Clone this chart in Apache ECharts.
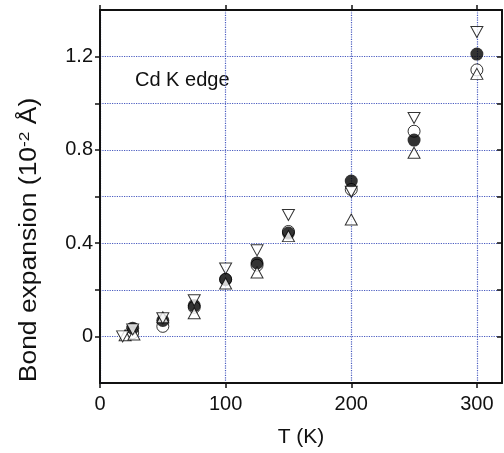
<!DOCTYPE html>
<html>
<head>
<meta charset="utf-8">
<script src="https://cdn.jsdelivr.net/npm/echarts@6/dist/echarts.min.js"></script>
<style>
  html, body { margin: 0; padding: 0; background: #fff; }
  #chart { width: 504px; height: 453px; }
</style>
</head>
<body>
<div id="chart"></div>
<script>
// Bond expansion vs temperature, Cd K edge (four data sets)
const filledT = [26, 50, 75, 100, 125, 150, 200, 250, 300];
const filledV = [0.035, 0.068, 0.132, 0.244, 0.315, 0.443, 0.666, 0.842, 1.211];

const openT = [26, 50, 75, 100, 125, 150, 200, 250, 300];
const openV = [0.015, 0.043, 0.125, 0.245, 0.305, 0.450, 0.630, 0.880, 1.143];

const upT = [20, 27, 50, 75, 100, 125, 150, 200, 250, 300];
const upV = [0.005, 0.008, 0.082, 0.099, 0.227, 0.274, 0.430, 0.501, 0.788, 1.126];

const downT = [18, 26, 50, 75, 100, 125, 150, 200, 250, 300];
const downV = [0.000, 0.030, 0.078, 0.155, 0.291, 0.369, 0.521, 0.620, 0.937, 1.306];

const xTickLabels = [0, 100, 200, 300];
const yTickLabels = [0, 0.4, 0.8, 1.2];
const yTicks = [0, 0.2, 0.4, 0.6, 0.8, 1.0, 1.2];

const pairs = (xs, ys) => xs.map((x, i) => [x, ys[i]]);

const FONT = 'Liberation Sans, Arial, sans-serif';
const gridLine = { show: true, lineStyle: { color: '#4a5cc0', type: 'dotted', width: 1.2 } };
const axisLine = { show: true, onZero: false, lineStyle: { color: '#111', width: 2 } };
const tickStyle = { color: '#111', width: 1.5 };

const chart = echarts.init(document.getElementById('chart'), null, { renderer: 'canvas' });

const openStyle = { color: '#fff', borderColor: '#000', borderWidth: 1 };

chart.setOption({
  animation: false,
  backgroundColor: '#fff',
  grid: { left: 100, right: 2, top: 10, bottom: 68 },
  xAxis: [
    {
      type: 'value', position: 'bottom', min: 0, max: 320, interval: 50,
      axisLine: axisLine,
      splitLine: gridLine,
      axisTick: { show: true, inside: false, length: 5, customValues: xTickLabels, lineStyle: tickStyle },
      axisLabel: { customValues: xTickLabels, fontSize: 20, fontFamily: FONT, color: '#111', margin: 11 },
      name: 'T (K)', nameLocation: 'middle', nameGap: 44,
      nameTextStyle: { fontSize: 21, fontFamily: FONT, color: '#111' }
    },
    {
      type: 'value', position: 'top', min: 0, max: 320, interval: 50,
      axisLine: axisLine,
      splitLine: { show: false },
      axisTick: { show: true, inside: false, length: 5, customValues: xTickLabels, lineStyle: tickStyle },
      axisLabel: { show: false }
    }
  ],
  yAxis: [
    {
      type: 'value', position: 'left', min: -0.2, max: 1.4, interval: 0.2,
      axisLine: axisLine,
      splitLine: gridLine,
      axisTick: { show: true, inside: false, length: 5, customValues: yTicks, lineStyle: tickStyle },
      axisLabel: {
        customValues: yTickLabels, fontSize: 20, fontFamily: FONT, color: '#111', margin: 7,
        formatter: v => (Math.abs(v) < 1e-9 ? '0' : v.toFixed(1))
      }
    },
    {
      type: 'value', position: 'right', min: -0.2, max: 1.4, interval: 0.2,
      axisLine: axisLine,
      splitLine: { show: false },
      axisTick: { show: true, inside: true, length: 5, customValues: yTicks, lineStyle: tickStyle },
      axisLabel: { show: false }
    }
  ],
  graphic: [
    {
      // y-axis title, stretched slightly along its length
      type: 'text', x: 30, y: 240, rotation: Math.PI / 2, scaleX: 1.15,
      style: {
        text: '{n|Bond expansion (10}{s|-2}{n| Å)}',
        align: 'center', verticalAlign: 'middle',
        rich: {
          n: { fontSize: 23, fontFamily: FONT, fill: '#111' },
          s: { fontSize: 15, fontFamily: FONT, fill: '#111', verticalAlign: 'top', lineHeight: 26 }
        }
      }
    },
    {
      type: 'text', x: 135, y: 80,
      style: { text: 'Cd K edge', fontSize: 20, fontFamily: FONT, fill: '#111', verticalAlign: 'middle' }
    }
  ],
  series: [
    {
      name: 'open circle', type: 'scatter', data: pairs(openT, openV),
      symbol: 'circle', symbolSize: 12, itemStyle: openStyle
    },
    {
      name: 'filled circle', type: 'scatter', data: pairs(filledT, filledV),
      symbol: 'circle', symbolSize: 13, itemStyle: { color: '#000' }
    },
    {
      name: 'up triangle', type: 'scatter', data: pairs(upT, upV),
      symbol: 'triangle', symbolSize: [12, 11], itemStyle: openStyle
    },
    {
      name: 'down triangle', type: 'scatter', data: pairs(downT, downV),
      symbol: 'triangle', symbolRotate: 180, symbolSize: [12, 11], itemStyle: openStyle
    }
  ]
});
</script>
</body>
</html>
